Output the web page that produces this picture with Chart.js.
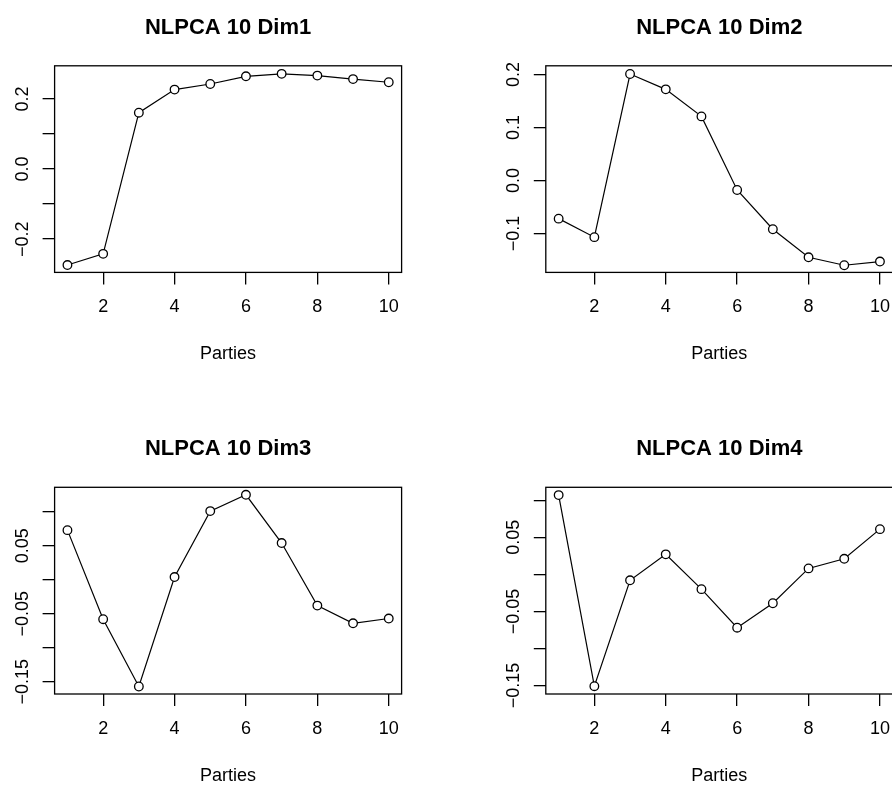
<!DOCTYPE html>
<html>
<head>
<meta charset="utf-8">
<script src="https://cdn.jsdelivr.net/npm/chart.js@4.4.1/dist/chart.umd.min.js"></script>
<style>
html, body { margin: 0; padding: 0; background: #fff; }
body { width: 892px; height: 788px; position: relative; overflow: hidden; }
canvas { position: absolute; }
</style>
</head>
<body>
<canvas id="c1" width="446" height="366" style="left:0px;top:0px"></canvas>
<canvas id="c2" width="460" height="366" style="left:446px;top:0px"></canvas>
<canvas id="c3" width="446" height="366" style="left:0px;top:421px"></canvas>
<canvas id="c4" width="460" height="366" style="left:446px;top:421px"></canvas>
<script>
// data
const parties = [1, 2, 3, 4, 5, 6, 7, 8, 9, 10];
const xTicks = [2, 4, 6, 8, 10];
const xLabel = 'Parties';

const dim1 = [-0.274, -0.242, 0.161, 0.227, 0.243, 0.265, 0.272, 0.267, 0.257, 0.248];
const dim2 = [-0.072, -0.107, 0.201, 0.172, 0.121, -0.018, -0.092, -0.145, -0.160, -0.153];
const dim3 = [0.073, -0.058, -0.157, 0.004, 0.101, 0.125, 0.054, -0.038, -0.064, -0.057];
const dim4 = [0.107, -0.151, -0.008, 0.027, -0.020, -0.072, -0.039, 0.008, 0.021, 0.061];

const titles = ['NLPCA 10 Dim1', 'NLPCA 10 Dim2', 'NLPCA 10 Dim3', 'NLPCA 10 Dim4'];

// y tick marks and the ones that carry a label
const yTicks1 = [-0.2, -0.1, 0, 0.1, 0.2];
const yLabels1 = [-0.2, 0, 0.2];
const yTicks2 = [-0.1, 0, 0.1, 0.2];
const yLabels2 = [-0.1, 0, 0.1, 0.2];
const yTicks3 = [-0.15, -0.1, -0.05, 0, 0.05, 0.1];
const yLabels3 = [-0.15, -0.05, 0.05];
const yTicks4 = [-0.15, -0.1, -0.05, 0, 0.05, 0.1];
const yLabels4 = [-0.15, -0.05, 0.05];

// axis limits
const xRange = [0.64, 10.36];
const yRange1 = [-0.295, 0.295];
const yRange2 = [-0.1735, 0.2165];
const yRange3 = [-0.168, 0.136];
const yRange4 = [-0.1615, 0.1175];

const FONT = '"Liberation Sans", Arial, Helvetica, sans-serif';

function fmt(v, d) {
  const s = Math.abs(v).toFixed(d);
  return v < -1e-9 ? '\u2212' + s : s;
}

const rDecor = {
  id: 'rDecor',
  afterDraw(chart, args, o) {
    const ctx = chart.ctx;
    const a = chart.chartArea;
    const y = chart.scales.y;
    ctx.save();
    ctx.strokeStyle = '#000';
    ctx.lineWidth = 1.3;
    ctx.strokeRect(a.left, a.top, a.right - a.left, a.bottom - a.top);

    ctx.fillStyle = '#000';
    ctx.textAlign = 'center';
    ctx.textBaseline = 'alphabetic';
    const cx = (a.left + a.right) / 2;
    ctx.font = 'bold 22px ' + FONT;
    ctx.fillText(o.title, cx, a.top - 32);

    ctx.font = '18px ' + FONT;
    ctx.fillText(xLabel, cx, a.bottom + 87);

    o.yLabels.forEach(v => {
      ctx.save();
      ctx.translate(a.left - 27, y.getPixelForValue(v));
      ctx.rotate(-Math.PI / 2);
      ctx.fillText(fmt(v, o.dec), 0, 0);
      ctx.restore();
    });
    ctx.restore();
  }
};

function drawPanel(id, values, title, yTicks, yLabels, yRange, dec, area) {
  const cv = document.getElementById(id);
  const xAxisH = 60;
  new Chart(cv, {
    type: 'line',
    data: {
      datasets: [{
        data: parties.map((p, i) => ({ x: p, y: values[i] })),
        borderColor: '#000',
        borderWidth: 1.2,
        pointRadius: 4.3,
        pointBorderWidth: 1.3,
        pointBorderColor: '#000',
        pointBackgroundColor: '#fff',
        tension: 0,
        clip: false
      }]
    },
    options: {
      responsive: false,
      animation: false,
      events: [],
      layout: {
        padding: {
          left: 0,
          top: area.t,
          right: cv.width - area.r,
          bottom: cv.height - area.b - xAxisH
        }
      },
      plugins: {
        legend: { display: false },
        tooltip: { enabled: false },
        rDecor: { title: title, yLabels: yLabels, dec: dec }
      },
      scales: {
        x: {
          type: 'linear',
          min: xRange[0],
          max: xRange[1],
          afterBuildTicks: s => { s.ticks = xTicks.map(v => ({ value: v })); },
          afterFit: s => { s.height = xAxisH; },
          border: { display: false },
          grid: { drawOnChartArea: false, drawTicks: true, tickLength: 12, color: '#000', lineWidth: 1.3 },
          ticks: {
            autoSkip: false,
            maxRotation: 0,
            color: '#000',
            padding: 12,
            font: { family: FONT, size: 18 },
            callback: v => String(v)
          }
        },
        y: {
          type: 'linear',
          min: yRange[0],
          max: yRange[1],
          afterBuildTicks: s => { s.ticks = yTicks.map(v => ({ value: v })); },
          afterFit: s => { s.width = area.l; },
          border: { display: false },
          grid: { drawOnChartArea: false, drawTicks: true, tickLength: 12, color: '#000', lineWidth: 1.3 },
          ticks: { display: false }
        }
      }
    },
    plugins: [rDecor]
  });
}

const areaL = { l: 54.6, t: 65.8, r: 401.6, b: 272.4 };
const areaR = { l: 99.8, t: 65.8, r: 446.8, b: 272.4 };
const areaL2 = { l: 54.6, t: 66.3, r: 401.6, b: 273 };
const areaR2 = { l: 99.8, t: 66.3, r: 446.8, b: 273 };

drawPanel('c1', dim1, titles[0], yTicks1, yLabels1, yRange1, 1, areaL);
drawPanel('c2', dim2, titles[1], yTicks2, yLabels2, yRange2, 1, areaR);
drawPanel('c3', dim3, titles[2], yTicks3, yLabels3, yRange3, 2, areaL2);
drawPanel('c4', dim4, titles[3], yTicks4, yLabels4, yRange4, 2, areaR2);
</script>
</body>
</html>
